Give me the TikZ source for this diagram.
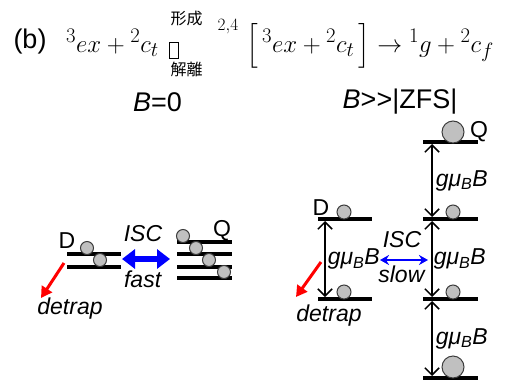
\documentclass[tikz,border=0pt]{standalone}
\usepackage{amsmath}
\usepackage{fontspec}
\setmainfont{Liberation Sans}
\newfontfamily\cjkfont{Noto Sans CJK JP}
\usetikzlibrary{arrows.meta,positioning,calc}
\definecolor{spin}{RGB}{192,192,192}
\definecolor{spinedge}{RGB}{60,60,60}
\definecolor{iscblue}{RGB}{0,0,255}
\definecolor{trapred}{RGB}{255,0,0}
\tikzset{level/.style={line width=3.5pt},
  dot/.style={circle,draw=spinedge,fill=spin,line width=1pt,inner sep=0pt,minimum size=13pt},
  midspin/.style={dot,minimum size=14pt},
  bigspin/.style={dot,minimum size=22pt},
  gap/.style={{Straight Barb[length=2.5mm]}-{Straight Barb[length=2.5mm]},line width=1.5pt},
  iscfast/.style={{Triangle[length=13pt,width=19pt]}-{Triangle[length=13pt,width=19pt]},line width=6pt,iscblue},
  iscslow/.style={{Stealth[length=9pt,width=10pt]}-{Stealth[length=9pt,width=10pt]},line width=2pt,iscblue},
  detrap/.style={-{Triangle[length=11pt,width=12pt]},line width=3pt,trapred},
  lbl/.style={font=\fontsize{23}{26}\selectfont,inner sep=0pt},
  head/.style={font=\fontsize{27}{30}\selectfont,inner sep=0pt},
  eq/.style={font=\fontsize{29}{29}\selectfont,inner sep=0pt},
  cjk/.style={font=\cjkfont\fontsize{16}{18}\selectfont,inner sep=0pt}}

\begin{document}
\begin{tikzpicture}[x=1pt,y=-1pt]
\useasboundingbox (0,0) rectangle (513,383);
% reaction
\node[head] (tag) at (30,42) {(b)};
\node[eq,anchor=base west] (eqa) at (66,52) {$^{3}ex+{}^{2}c_{t}$};
\node[draw,line width=0.6pt,minimum width=9pt,minimum height=16pt,inner sep=0pt] (eqbox) at (173.5,50) {};
\node[cjk] (form) at (186.5,18.5) {形成};
\node[cjk] (diss) at (186.5,69.5) {解離};
\node[eq,font=\fontsize{18}{20}\selectfont] (spinsum) at (228,27) {$2{,}4$};
\node[eq,anchor=base west] (eqb) at (246,52) {$\Bigl[\,{}^{3}ex+{}^{2}c_{t}\,\Bigr]\to{}^{1}g+{}^{2}c_{f}$};
\node[head] (bzero) at (157.5,102) {\textit{B}=0};
\node[head] (bhigh) at (400,102) {\textit{B}>\kern0pt>|ZFS|};

% B=0
\draw[level] (67,254) -- (121,254);
\draw[level] (67,267) -- (121,267);
\node[dot] (d1) at (87,248) {};
\node[dot] (d2) at (100,260) {};
\node[lbl] (dlab) at (67,241) {D};
\foreach \y in {242,254,267,278}
  \draw[level] (177,\y) -- (232,\y);
\node[dot] (q1) at (183,236) {};
\node[dot] (q2) at (196,248) {};
\node[dot] (q3) at (209,260) {};
\node[dot] (q4) at (224,272) {};
\node[lbl] (qlab) at (222,231) {Q};
\coordinate (fastl) at (122,259);
\coordinate (fastr) at (170,259);
\draw[iscfast] (fastl) -- (fastr);
\node[lbl] (isca) at (143,234) {\textit{ISC}};
\node[lbl] (fast) at (143,279) {\textit{fast}};
\coordinate (tra) at (64,263);
\coordinate (trb) at (41,298);
\draw[detrap] (tra) -- (trb);
\node[lbl] (dta) at (70,309) {\textit{detrap}};

% B>>|ZFS|
\draw[level] (318,219) -- (372,219);
\draw[level] (318,299) -- (372,299);
\node[midspin] (e1) at (344,212) {};
\node[midspin] (e2) at (344,292) {};
\node[lbl] (dlab2) at (321,208) {D};
\foreach \y in {142,219,299,378}
  \draw[level] (423,\y) -- (478,\y);
\node[bigspin] (r1) at (453,132) {};
\node[midspin] (r2) at (453,212) {};
\node[midspin] (r3) at (453,292) {};
\node[bigspin] (r4) at (453,367) {};
\node[lbl] (qlab2) at (479,132) {Q};
\coordinate (dtop) at (325,221);
\coordinate (dbot) at (325,297);
\draw[gap] (dtop) -- node[lbl,right=2pt] {\textit{gμ\textsubscript{B}B}} (dbot);
\coordinate (l1) at (432,144);
\coordinate (l2a) at (432,217);
\coordinate (l2b) at (432,221);
\coordinate (l3a) at (432,297);
\coordinate (l3b) at (432,301);
\coordinate (l4) at (432,376);
\draw[gap] (l1) -- node[lbl,right=3pt] {\textit{gμ\textsubscript{B}B}} (l2a);
\draw[gap] (l2b) -- node[lbl,right=1pt] {\textit{gμ\textsubscript{B}B}} (l3a);
\draw[gap] (l3b) -- node[lbl,right=3pt] {\textit{gμ\textsubscript{B}B}} (l4);
\coordinate (slowl) at (380,260);
\coordinate (slowr) at (428,260);
\draw[iscslow] (slowl) -- (slowr);
\node[lbl] (iscb) at (402,240) {\textit{ISC}};
\node[lbl] (slow) at (402,274) {\textit{slow}};
\coordinate (trc) at (321,262);
\coordinate (trd) at (296,297);
\draw[detrap] (trc) -- (trd);
\node[lbl] (dtb) at (329,316) {\textit{detrap}};
\end{tikzpicture}
\end{document}
